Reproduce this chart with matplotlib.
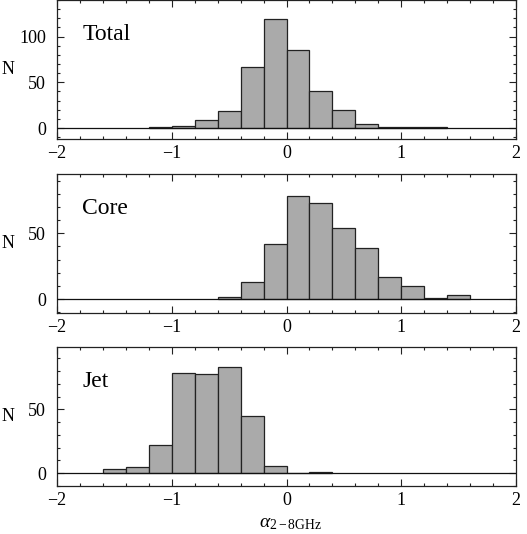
import numpy as np
import matplotlib
matplotlib.use("Agg")
import matplotlib.pyplot as plt
from matplotlib.ticker import MultipleLocator

plt.rcParams['font.family'] = ['Liberation Serif', 'DejaVu Serif']
plt.rcParams['mathtext.fontset'] = 'custom'
plt.rcParams['mathtext.rm'] = 'Liberation Serif'
plt.rcParams['mathtext.it'] = 'Liberation Serif:italic'

# bin edges (left edges, width 0.2)
total_left = [-1.2, -1.0, -0.8, -0.6, -0.4, -0.2, 0.0, 0.2, 0.4, 0.6, 0.8, 1.0, 1.2]
total_counts = [1, 2, 9, 19, 67, 119, 85, 41, 20, 4, 1, 1, 1]

core_left = [-0.6, -0.4, -0.2, 0.0, 0.2, 0.4, 0.6, 0.8, 1.0, 1.2, 1.4]
core_counts = [2, 13, 42, 78, 73, 54, 39, 17, 10, 1, 3]

jet_left = [-1.6, -1.4, -1.2, -1.0, -0.8, -0.6, -0.4, -0.2, 0.0, 0.2]
jet_counts = [3, 5, 22, 79, 78, 83, 45, 6, 0, 1]

labels = ["Total", "Core", "Jet"]
ylims = [(-12, 140), (-10.5, 95), (-10, 99)]
bin_width = 0.2

fig = plt.figure(figsize=(5.27, 5.34), dpi=100)
W, H = 527, 534
boxes = [(57, 0, 516, 139), (57, 174, 516, 313), (57, 347, 516, 486)]
data = [(total_left, total_counts), (core_left, core_counts), (jet_left, jet_counts)]

for (x0, y0, x1, y1), (lefts, counts), lab, yl in zip(boxes, data, labels, ylims):
    ax = fig.add_axes([x0 / W, 1 - y1 / H, (x1 - x0) / W, (y1 - y0) / H])
    ax.bar(lefts, counts, width=bin_width, align='edge', color='#aaaaaa',
           edgecolor='#222222', linewidth=0.9, zorder=2)
    ax.axhline(0, color='#111111', linewidth=0.9, zorder=3)
    ax.set_xlim(-2, 2)
    ax.set_ylim(*yl)
    ax.xaxis.set_major_locator(MultipleLocator(1))
    ax.xaxis.set_minor_locator(MultipleLocator(0.2))
    ax.yaxis.set_major_locator(MultipleLocator(50))
    ax.yaxis.set_minor_locator(MultipleLocator(10))
    ax.tick_params(which='both', direction='in', top=True, right=True,
                   labelsize=13, color='#222222', width=0.8)
    ax.tick_params(which='major', length=5)
    ax.tick_params(which='minor', length=2.5)
    ax.tick_params(axis='x', which='major', pad=4)
    ax.tick_params(axis='y', which='major', pad=8)
    for s in ax.spines.values():
        s.set_linewidth(0.9)
        s.set_color('#222222')
    ax.set_xticks([-2, -1, 0, 1, 2])
    ax.set_xticklabels(['\u22122', '\u22121', '0', '1', '2'])
    ax.text(0.055, 0.75, lab, transform=ax.transAxes,
            fontsize=17, ha='left', va='center')
    fig.text(8 / W, 1 - ((y0 + y1) / 2) / H, 'N', fontsize=13,
             ha='center', va='center')

fig.text(290 / W, 1 - 524 / H, r'$\alpha_{\rm 2-8GHz}$', fontsize=14,
         ha='center', va='center')

fig.savefig('out.png', dpi=100)
